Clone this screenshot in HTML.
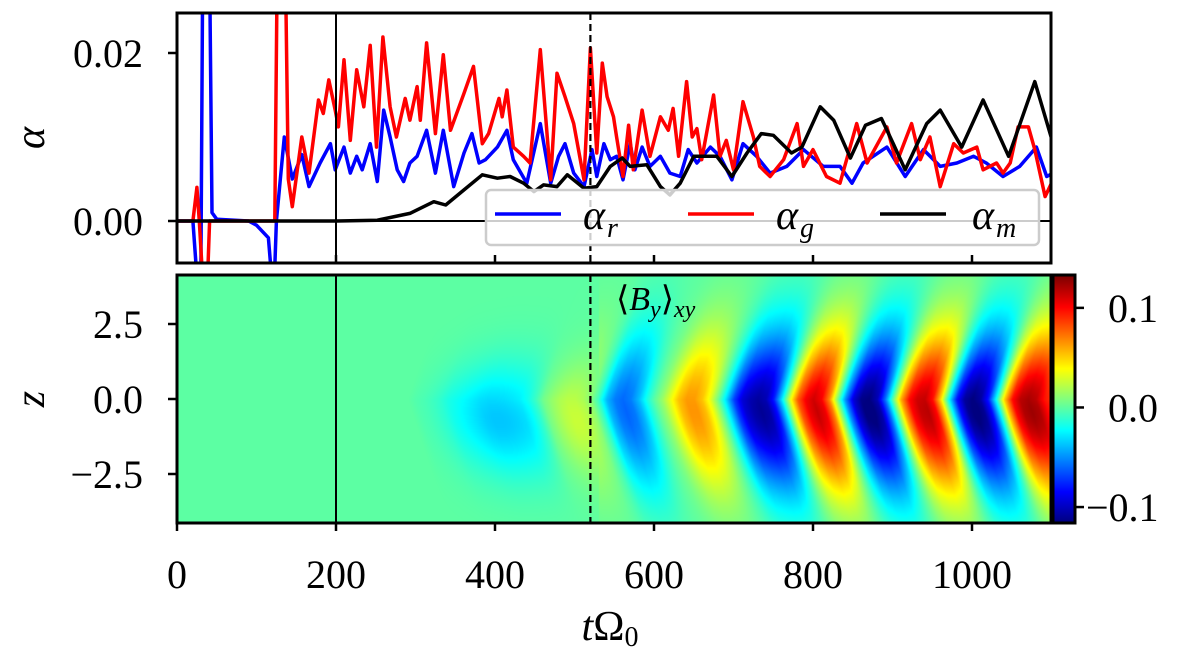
<!DOCTYPE html>
<html><head><meta charset="utf-8">
<style>
html,body{margin:0;padding:0;background:#fff;}
#wrap{position:relative;width:1200px;height:649px;overflow:hidden;font-family:"Liberation Serif",serif;}
svg text{font-family:"Liberation Serif",serif;}
#heat{position:absolute;left:177px;top:275px;}
#cbar{position:absolute;left:1054px;top:276px;}
#ov{position:absolute;left:0;top:0;}
</style></head>
<body>
<div id="wrap">
<canvas id="heat" width="874" height="248"></canvas>
<canvas id="cbar" width="20" height="246"></canvas>
<svg id="ov" width="1200" height="649">
<defs><clipPath id="topclip"><rect x="177" y="13" width="874" height="250"/></clipPath></defs>
<g id="lines" clip-path="url(#topclip)"></g>
<g id="axes"></g>
</svg>
</div>
<script>
// ---- top panel data (alpha in units of 1e-3) ----
const tR=[0,20,26,30,33,40,44,50,90,100,110,115,118,123,125,135,145,157,166,180,193,199,210,218,226,233,243,252,260,268,277,285,293,302,314,325,335,348,361,371,380,388,403,415,423,440,457,470,480,488,499,512,522,528,537,545,553,561,570,576,585,595,608,620,633,643,654,671,683,698,712,729,746,767,788,813,834,849,863,893,916,939,960,981,1002,1018,1039,1060,1081,1094,1102];
const aR=[0,0,-8,-8,40,40,1,0.2,0,-0.5,-1.5,-2,-5.5,-5.5,0,10,5,7.9,4.1,6.9,9.2,6.1,8.8,5.7,7.7,6.1,9.2,4.7,13.2,10,6.1,4.7,6.9,7.7,10.8,5.7,10.8,4.1,8.1,10.4,6.9,7.3,8.8,10.8,7.3,4.5,11.6,4.5,7.7,9.2,5.7,4.1,8.5,5.3,9.2,7.3,7.7,4.9,9.2,6.1,8.8,6.5,7.7,5.7,5.3,8.5,6.9,8.8,7.7,4.9,9.2,7.7,5.7,6.5,8.5,6.5,6.5,4.5,6.9,8.8,5.3,8.5,6.5,6.9,7.7,6.9,5.3,6.5,8.8,5.3,5.7];
const tG=[0,20,25,28,33,38,41,120,123,127,135,140,145,157,166,178,184,191,199,203,210,218,226,235,243,251,259,268,276,287,293,302,306,314,325,335,344,361,373,384,392,405,409,415,423,436,444,457,470,478,488,499,512,520,528,535,541,549,553,561,568,574,585,595,608,618,624,631,641,648,654,660,675,683,691,700,712,725,733,746,763,780,788,800,817,834,855,868,893,905,924,935,947,960,977,989,1006,1014,1031,1039,1048,1058,1071,1079,1092,1102];
const aG=[0,0,4,0,-8,-8,0,0,0,40,40,5,1.7,10,5.7,14.4,12.8,16.8,13.2,11.2,19.2,9.6,18,13.6,20.9,8.8,21.9,13.6,10,14.6,12,16,12,21.2,10.4,19.8,10.8,15.2,18.4,9.2,10.4,14.6,12.4,15.6,8.8,7.7,6.9,20.4,4.9,17.6,14.8,11.6,4.9,20.6,8.1,18.8,14.8,12.4,10,5.3,11.4,6.1,13.2,7.7,12.4,10.8,13.4,7.7,16.6,10,11,7.3,15,7.7,9.6,6.1,14.2,10,6.5,5.3,7.3,11.6,6.5,8.5,5.3,4.5,11.6,6.9,11.2,6.9,11.6,7.3,10,4.1,9.2,8.1,8.8,6.1,6.9,5.7,6.9,11.2,11.2,8.5,2.9,4.9];
const tM=[0,201,252,293,323,338,361,384,403,419,436,449,461,478,491,512,528,545,560,570,591,608,620,633,650,679,698,717,735,750,773,786,809,826,847,866,886,901,916,943,960,987,1014,1046,1079,1102];
const aM=[0,0,0.1,0.9,2.3,1.9,3.7,5.5,5.1,5.3,4.5,3.5,4.3,4.1,5.5,3.9,4.1,6.5,7.5,6.5,6.7,4.1,3.1,4.5,7.7,7.7,5.3,8.1,10.4,10.2,8.1,8.8,13.6,12,7.5,11.4,12.2,9.2,6.1,11.6,13.2,8.8,14.4,7.7,16.6,9.2];
// ---- heatmap data: <B_y> amplitude at z=0 (units 1e-3), every 10 time units ----
const heatT0=0, heatDT=10;
const heatAmp=[0,0,0,0,0,0,0,0,0,0,0,0,0,0,0,0,0,0,0,0,0,0,0,0,0,0,0,0,0,0,
-3,-5,-8,-12,-18,-22,-26,-30,-34,-36,-36,-35,-33,-30,-22,-10,6,15,22,26,26,22,12,-10,-40,-55,-60,-55,-40,-18,
0,15,35,55,65,65,55,35,5,-30,-70,-95,-105,-110,-105,-80,-30,30,80,105,115,105,70,10,-50,-95,-115,-118,-105,-60,
0,60,100,115,118,100,50,-20,-80,-110,-118,-110,-80,-20,50,100,120,125,120,100,90];
const xTicks=[0,200,400,600,800,1000];
const yTopTicks=[0,0.02], yTopLabels=["0.00","0.02"];
const zTicks=[2.5,0,-2.5], zLabels=["2.5","0.0","\u22122.5"];
const cTicks=[0.1,0,-0.1], cLabels=["0.1","0.0","\u22120.1"];

const X=t=>177+t*0.795;
const YT=a=>221-a*8400;
const YZ=z=>399-z*30;
const VMIN=-0.115, VMAX=0.132;
const YC=v=>276+(VMAX-v)/(VMAX-VMIN)*246;
const NS="http://www.w3.org/2000/svg";
function mk(tag,attrs,parent){const e=document.createElementNS(NS,tag);for(const k in attrs)e.setAttribute(k,attrs[k]);parent.appendChild(e);return e;}
function jet(x){x=Math.max(0,Math.min(1,x));const c=v=>Math.round(255*Math.max(0,Math.min(1,v)));return [c(1.5-Math.abs(4*x-3)),c(1.5-Math.abs(4*x-2)),c(1.5-Math.abs(4*x-1))];}

// heatmap
(function(){
 const cv=document.getElementById('heat');const ctx=cv.getContext('2d');
 const W=cv.width,H=cv.height;const img=ctx.createImageData(W,H);
 function amp(t){const f=(t-heatT0)/heatDT;if(f<=0)return heatAmp[0];const i=Math.floor(f);if(i>=heatAmp.length-1)return heatAmp[heatAmp.length-1];const r=f-i;return heatAmp[i]*(1-r)+heatAmp[i+1]*r;}
 for(let py=0;py<H;py++){const z=(399-(275+py))/30;
  for(let px=0;px<W;px++){const t=px/0.795;
   const sig=t<530?1.3:1.9;const zc=t<530?-0.7:-0.4;
   const env=Math.exp(-Math.pow(z-zc,2)/(2*sig*sig));
   const v=t<200?0:amp(t-12*Math.abs(z))*env*1e-3;
   const c=jet((v-VMIN)/(VMAX-VMIN));const o=(py*W+px)*4;img.data[o]=c[0];img.data[o+1]=c[1];img.data[o+2]=c[2];img.data[o+3]=255;}}
 ctx.putImageData(img,0,0);
 const cb=document.getElementById('cbar');const c2=cb.getContext('2d');
 for(let py=0;py<246;py++){const v=VMAX-(py/246)*(VMAX-VMIN);const c=jet((v-VMIN)/(VMAX-VMIN));c2.fillStyle=`rgb(${c[0]},${c[1]},${c[2]})`;c2.fillRect(0,py,20,1);}
})();

// lines
const lg=document.getElementById('lines');
const zl=mk('line',{x1:177,x2:1051,y1:YT(0),y2:YT(0),stroke:'#000','stroke-width':2},lg);

function series(ts,as,col,name){const d=ts.map((t,i)=>(i?'L':'M')+X(t).toFixed(1)+' '+YT(as[i]*1e-3).toFixed(1)).join(' ');
 const p=mk('path',{d:d,fill:'none',stroke:col,'stroke-width':3.5,'stroke-linejoin':'round'},lg);
 }
series(tR,aR,'#0000ff','alpha-r-line');
series(tG,aG,'#ff0000','alpha-g-line');
series(tM,aM,'#000000','alpha-m-line');

const ax=document.getElementById('axes');
[[13,263],[275,523]].forEach(([a,b])=>{
 const s=mk('line',{x1:X(200),x2:X(200),y1:a,y2:b,stroke:'#000','stroke-width':2},ax);
 
 const d=mk('line',{x1:X(520),x2:X(520),y1:a,y2:b,stroke:'#000','stroke-width':2.2,'stroke-dasharray':'7 4'},ax);
 
});
// legend
const leg=mk('g',{},ax);
mk('rect',{x:486,y:190,width:553,height:55,rx:5,fill:'rgba(255,255,255,0.8)',stroke:'#ccc','stroke-width':2.5},leg);
[[495,'#0000ff','r',583],[688,'#ff0000','g',776],[880,'#000','m',972]].forEach(([x,c,s,tx])=>{
 const e=mk('g',{},leg);
 mk('line',{x1:x,x2:x+66,y1:214,y2:214,stroke:c,'stroke-width':3.5},e);
 const t=mk('text',{x:tx,y:229,'font-size':42,'font-style':'italic'},e);t.textContent='\u03b1';
 const sb=mk('tspan',{'font-size':28,dy:8,dx:2},t);sb.textContent=s;
});
// frames
mk('rect',{x:177,y:13,width:874,height:250,fill:'none',stroke:'#000','stroke-width':3},ax);
mk('rect',{x:177,y:275,width:874,height:248,fill:'none',stroke:'#000','stroke-width':3},ax);
mk('rect',{x:1053,y:275,width:22,height:248,fill:'none',stroke:'#000','stroke-width':3},ax);
xTicks.forEach(t=>{
 mk('line',{x1:X(t),x2:X(t),y1:523,y2:531,stroke:'#000','stroke-width':2.5},ax);
 mk('line',{x1:X(t),x2:X(t),y1:263,y2:255,stroke:'#000','stroke-width':2.5},ax);
 const tx=mk('text',{x:X(t),y:588,'font-size':40,'text-anchor':'middle'},ax);tx.textContent=t;
 
});
yTopTicks.forEach((v,i)=>{
 mk('line',{x1:168,x2:177,y1:YT(v),y2:YT(v),stroke:'#000','stroke-width':2.5},ax);
 const tx=mk('text',{x:143,y:YT(v)+14,'font-size':40,'text-anchor':'end'},ax);tx.textContent=yTopLabels[i];
 
});
zTicks.forEach((v,i)=>{
 mk('line',{x1:168,x2:177,y1:YZ(v),y2:YZ(v),stroke:'#000','stroke-width':2.5},ax);
 const tx=mk('text',{x:143,y:YZ(v)+14,'font-size':40,'text-anchor':'end'},ax);tx.textContent=zLabels[i];
 
});
cTicks.forEach((v,i)=>{
 mk('line',{x1:1075,x2:1084,y1:YC(v),y2:YC(v),stroke:'#000','stroke-width':2.5},ax);
 const tx=mk('text',{x:v<0?1086:1108,y:YC(v)+14,'font-size':40},ax);tx.textContent=cLabels[i];
 
});
let t1=mk('text',{x:44,y:138,'font-size':42,'font-style':'italic','text-anchor':'middle',transform:'rotate(-90 44 138)'},ax);t1.textContent='\u03b1';

let t2=mk('text',{x:44,y:399,'font-size':42,'font-style':'italic','text-anchor':'middle',transform:'rotate(-90 44 399)'},ax);t2.textContent='z';

let t3=mk('text',{x:610,y:640,'font-size':42,'text-anchor':'middle'},ax);

const ti=mk('tspan',{'font-style':'italic'},t3);ti.textContent='t';
const to=mk('tspan',{},t3);to.textContent='\u03a9';
const ts0=mk('tspan',{'font-size':28,dy:6},t3);ts0.textContent='0';
let t4=mk('text',{x:616,y:310,'font-size':34},ax);

const a1=mk('tspan',{},t4);a1.textContent='\u27e8';
const a2=mk('tspan',{'font-style':'italic'},t4);a2.textContent='B';
const a3=mk('tspan',{'font-style':'italic','font-size':24,dy:7},t4);a3.textContent='y';
const a4=mk('tspan',{dy:-7},t4);a4.textContent='\u27e9';
const a5=mk('tspan',{'font-style':'italic','font-size':24,dy:7},t4);a5.textContent='xy';
</script>
</body></html>
